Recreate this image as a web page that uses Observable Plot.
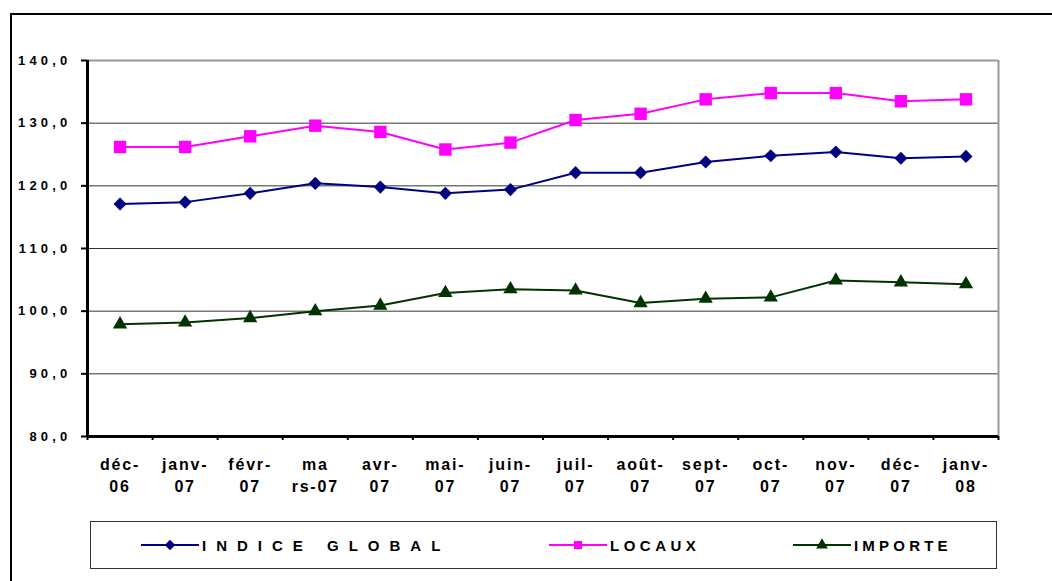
<!DOCTYPE html>
<html>
<head>
<meta charset="utf-8">
<script src="https://cdn.jsdelivr.net/npm/d3@7"></script>
<script src="https://cdn.jsdelivr.net/npm/@observablehq/plot@0.6"></script>
<style>
  html, body { margin: 0; padding: 0; background: #fff; }
  #wrap { position: relative; width: 1052px; height: 581px; overflow: hidden; background: #fff; font-family: "Liberation Sans", Arial, sans-serif; color: #000; }
  #frame { position: absolute; left: 10px; top: 13px; right: -10px; bottom: -10px; border-top: 2px solid #000; border-left: 2px solid #000; }
  #chart { position: absolute; left: 0; top: 0; }
  #chart svg { font-family: "Liberation Sans", Arial, sans-serif; color: #000; }
  #legend { position: absolute; left: 90px; top: 521px; width: 905px; height: 46px; border: 1px solid #333; background: #fff; }
  .item { position: absolute; top: 0; height: 46px; display: flex; align-items: center; }
  .item svg { display: block; }
  .item span { font-weight: bold; font-size: 15px; margin-left: 3px; white-space: pre; font-family: "Liberation Sans", Arial, sans-serif; }
</style>
</head>
<body>
<div id="wrap">
  <div id="frame"></div>
  <div id="chart"></div>
  <div id="legend"></div>
</div>
<script>
const months = ["déc-06","janv-07","févr-07","mars-07","avr-07","mai-07","juin-07","juil-07","août-07","sept-07","oct-07","nov-07","déc-07","janv-08"];
const tickLabels = ["déc-\n06","janv-\n07","févr-\n07","ma\nrs-07","avr-\n07","mai-\n07","juin-\n07","juil-\n07","août-\n07","sept-\n07","oct-\n07","nov-\n07","déc-\n07","janv-\n08"];
const indiceGlobal = [117.1,117.4,118.8,120.4,119.8,118.8,119.4,122.1,122.1,123.8,124.8,125.4,124.4,124.7];
const locaux = [126.2,126.2,127.9,129.6,128.6,125.8,126.9,130.5,131.5,133.8,134.8,134.8,133.5,133.8];
const importe = [97.9,98.2,98.9,100.0,100.9,102.9,103.5,103.3,101.3,102.0,102.2,104.9,104.6,104.3];
const seriesNames = ["INDICE GLOBAL","LOCAUX","IMPORTE"];
const seriesColors = ["#000080","#FF00FF","#003300"];
const seriesSymbols = ["diamond2","square","triangle"];
const yTicks = [80,90,100,110,120,130,140];
const gridTicks = [90,100,110,120,130];

const seriesValues = [indiceGlobal, locaux, importe];
const idx = d3.range(months.length);
const rows = seriesValues.map((vals, s) => idx.map(i => ({i, month: months[i], value: vals[i], series: seriesNames[s]})));

const lineMarks = [];
rows.forEach((r, s) => {
  lineMarks.push(Plot.line(r, {x: "i", y: "value", stroke: seriesColors[s], strokeWidth: 2}));
});
const symbolR = [5.9, 7.0, 5.3];
rows.forEach((r, s) => {
  lineMarks.push(Plot.dot(r, {x: "i", y: "value", symbol: () => seriesSymbols[s], r: symbolR[s], fill: seriesColors[s], stroke: "none"}));
});

const chart = Plot.plot({
  width: 1052,
  height: 505,
  marginLeft: 87,
  marginRight: 54,
  marginTop: 60,
  marginBottom: 69,
  style: {background: "transparent", fontFamily: "'Liberation Sans', Arial, sans-serif", color: "#000"},
  x: {type: "linear", domain: [-0.5, months.length - 0.5], label: null},
  y: {domain: [80, 140], label: null},
  symbol: {type: "identity"},
  marks: [
    Plot.ruleY(gridTicks, {stroke: "#333", strokeWidth: 1}),
    Plot.ruleY([140], {stroke: "#999", strokeWidth: 2}),
    Plot.ruleX([months.length - 0.5], {stroke: "#999", strokeWidth: 2}),
    ...lineMarks,
    Plot.ruleX([-0.5], {stroke: "#000", strokeWidth: 3}),
    Plot.ruleY([80], {stroke: "#000", strokeWidth: 3}),
    Plot.axisY(yTicks, {tickSize: 6, tickPadding: 10, strokeWidth: 2, stroke: "#000", fill: "#000", fontSize: 13, fontWeight: "bold", tickFormat: d => d.toFixed(1).replace(".", ","), label: null}),
    Plot.axisX(idx.map(i => i - 0.5).concat([months.length - 0.5]), {tickSize: 4, strokeWidth: 2, stroke: "#000", tickFormat: () => "", label: null}),
    Plot.axisX(idx, {tickSize: 0, tickPadding: 18, fontSize: 16, fontWeight: "bold", lineHeight: 1.36, fill: "#000", tickFormat: i => tickLabels[i], label: null})
  ]
});
document.getElementById("chart").appendChild(chart);

// enforce text styling inline
d3.select(chart).selectAll('g[aria-label="y-axis tick label"] text')
  .style("font-size", "13px").style("font-weight", "bold").style("letter-spacing", "4.2px")
  .style("font-family", "'Liberation Sans', Arial, sans-serif");
d3.select(chart).selectAll('g[aria-label="x-axis tick label"] text')
  .style("font-size", "16px").style("font-weight", "bold").style("letter-spacing", "1.8px")
  .style("font-family", "'Liberation Sans', Arial, sans-serif");

// Legend
const legend = document.getElementById("legend");
const legendLeft = [50, 458, 702];
const legendSpacing = [10, 4.5, 4.2];
seriesNames.forEach((name, s) => {
  const item = document.createElement("div");
  item.className = "item";
  item.style.left = legendLeft[s] + "px";
  const svg = d3.create("svg").attr("width", 58).attr("height", 16);
  svg.append("line").attr("x1", 0).attr("x2", 58).attr("y1", 8).attr("y2", 8).attr("stroke", seriesColors[s]).attr("stroke-width", 2);
  const sym = [d3.symbolDiamond2, d3.symbolSquare, d3.symbolTriangle][s];
  svg.append("path").attr("transform", "translate(29,8)").attr("d", d3.symbol(sym, [70, 64, 60][s])()).attr("fill", seriesColors[s]);
  item.appendChild(svg.node());
  const span = document.createElement("span");
  span.textContent = name;
  span.style.letterSpacing = legendSpacing[s] + "px";
  item.appendChild(span);
  legend.appendChild(item);
});
</script>
</body>
</html>
